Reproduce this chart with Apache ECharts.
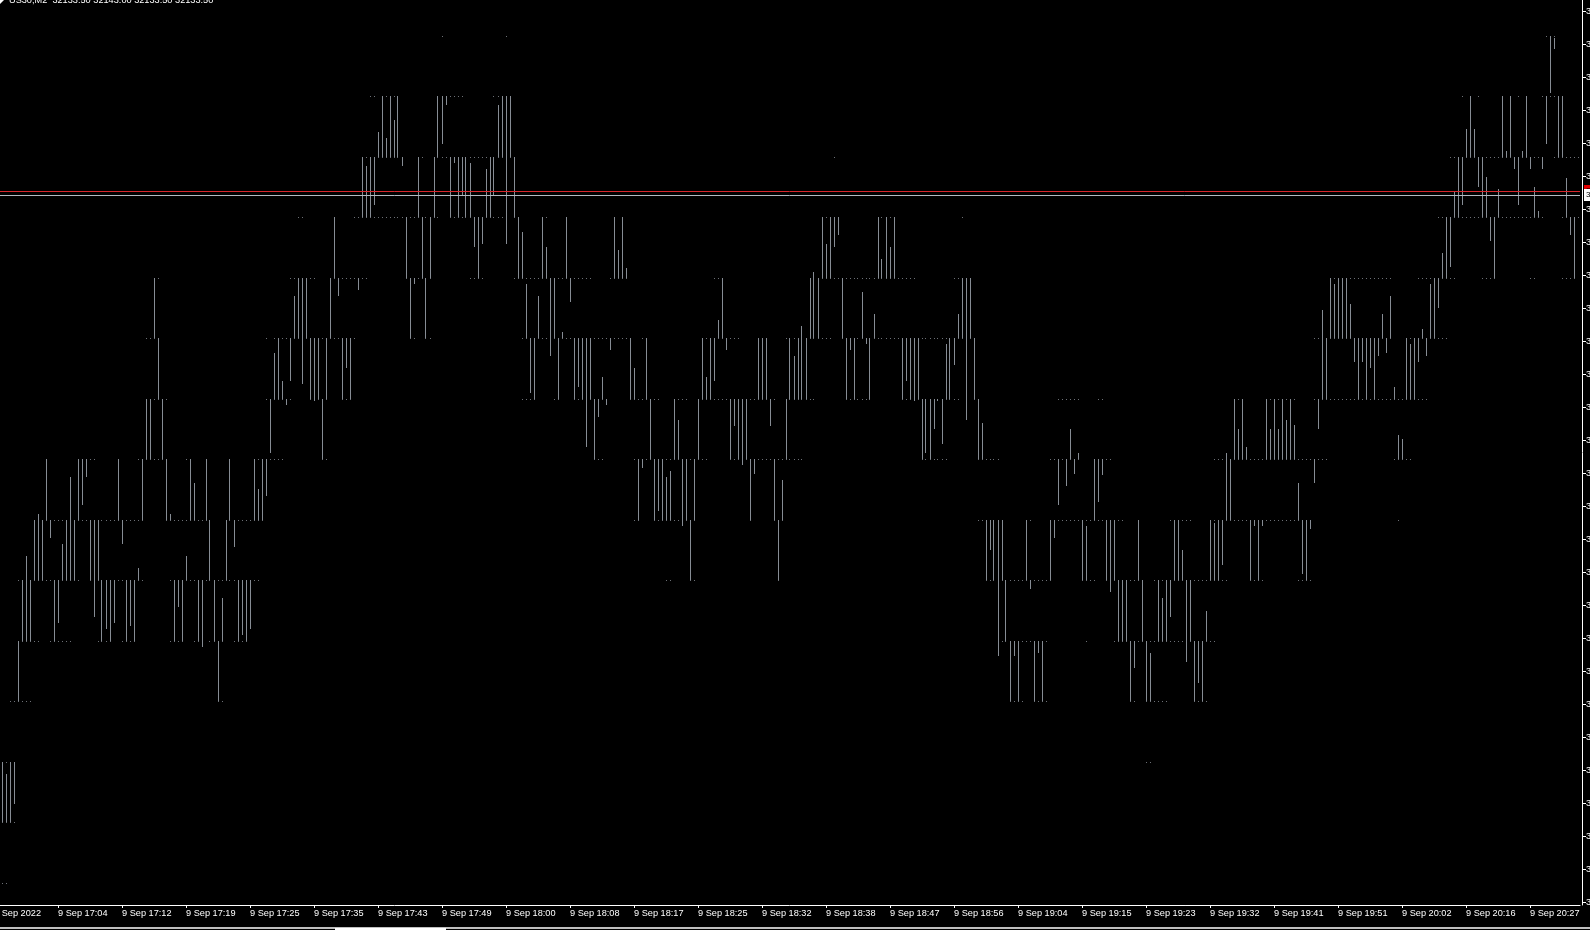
<!DOCTYPE html>
<html><head><meta charset="utf-8">
<style>html,body{margin:0;padding:0;background:#000;overflow:hidden}#c{width:1590px;height:930px}</style>
<script src="https://cdn.jsdelivr.net/npm/echarts@6/dist/echarts.min.js"></script>
</head><body><div id="c"></div>
<script>
const priceBase = 32000;
const header = 'US30,M2  32133.50 32143.00 32133.50 32133.50';
const bidPrice = 32133.75, askPrice = 32134.4;
const bidLabel = '32133.50', askLabel = '32134.20';
const timeLabels = ['9 Sep 2022','9 Sep 17:04','9 Sep 17:12','9 Sep 17:19','9 Sep 17:25','9 Sep 17:35','9 Sep 17:43','9 Sep 17:49','9 Sep 18:00','9 Sep 18:08','9 Sep 18:17','9 Sep 18:25','9 Sep 18:32','9 Sep 18:38','9 Sep 18:47','9 Sep 18:56','9 Sep 19:04','9 Sep 19:15','9 Sep 19:23','9 Sep 19:32','9 Sep 19:41','9 Sep 19:51','9 Sep 20:02','9 Sep 20:16','9 Sep 20:27'];
const priceTicks = [32164.13,32158.68,32153.23,32147.77,32142.32,32136.87,32131.41,32125.96,32120.50,32115.05,32109.60,32104.14,32098.69,32093.23,32087.78,32082.33,32076.87,32071.42,32065.96,32060.51,32055.06,32049.60,32044.15,32038.69,32033.24,32027.79,32022.33,32016.88];

// [column, high, low] relative to priceBase
const barsA = [[0,40,30],[1,38,30],[2,40,30],[3,40,33],[4,60,50],[5,70,60],[6,74,60],[7,70,60],[8,80,70],[9,81,70],[10,80,70],[11,90,80],[12,80,77],[13,70,60],[14,70,63],[15,76,70],[16,80,70],[17,87,70],[18,80,70],[19,90,80],[20,90,82.5],[21,90,87],[22,80,70],[23,80,64],[24,80,70],[25,70,60],[26,70,62],[27,70,60],[28,70,63],[29,90,80],[30,80,76],[31,70,60],[32,70,62.5],[33,70,60],[34,72,70],[35,90,80],[36,100,90],[37,100,90],[38,120,110],[39,110,100],[40,100,90],[41,90,80],[42,81,80],[43,70,60],[44,70,65.5],[45,70,60],[46,74,70],[47,90,80],[48,86,80],[49,70,60],[50,70,59],[51,90,80],[52,80,70],[53,70,60],[54,60,50],[55,67,60],[56,80,70],[57,90,80],[58,80,75.5],[59,70,60],[60,70,61],[61,70,60],[62,70,62],[63,90,80],[64,85,80],[65,90,80],[66,90,84]];
const barsB = [[67,100,91],[68,107.5,100],[69,110,100],[70,103,100],[71,100,99],[72,110,103],[73,117,110],[74,120,110],[75,120,102.5],[76,120,110],[77,110,100],[78,110,99.6],[79,110,100],[80,100,90],[81,110,100],[82,120,110],[83,130,120],[84,120,117],[85,110,100],[86,110,105],[87,110,100],[89,120,118],[90,140,130],[91,138.5,130],[92,140,130],[93,140,132],[94,144,140],[95,150,140],[96,143,140],[97,150,140],[98,146,140],[99,150,140],[100,140,138.5],[101,130,120],[102,120,110],[103,120,119],[104,140,130],[105,130,120],[106,120,110],[107,130,120],[108,140,130],[109,150,140],[110,150,142],[111,150,148.6],[112,140,130],[113,140,139],[114,140,130],[115,140,133.7],[116,140,130],[117,139,130],[118,130,125],[119,130,120],[120,130,125.5],[121,138,130],[122,140,130],[123,140,133.7],[124,148.5,140],[125,150,140],[126,150,125.5],[127,150,140],[128,140,130],[129,130,120],[130,127.5,120],[131,119,110]];
const barsC = [[132,110,101],[133,110,100],[134,117,110],[135,130,120],[136,125,120],[137,120,107],[138,120,110],[139,110,100],[140,111,110],[141,130,120],[142,120,116],[143,110,100],[144,110,102],[145,110,100],[146,110,92],[147,110,100],[148,100,90],[149,100,97],[150,103.6,100],[151,100,99],[152,110,108],[153,130,120],[154,124.6,120],[155,130,120],[156,121.6,120],[157,110,100],[158,105,100],[159,90,80],[160,90,88.5],[161,110,100],[162,100,90],[163,90,80],[164,90,81.5],[165,90,80],[166,87,80],[167,88,80],[168,100,90],[169,96.4,90],[170,90,79],[171,90,80],[172,80,70],[173,90,80],[174,100,90],[175,110,100],[176,103.6,100],[177,110,100],[178,110,103],[179,113,110],[180,120,110],[181,110,108],[182,100,90],[183,100,95.5],[184,100,90],[185,100,89],[186,100,90],[187,90,80],[188,90,87.5],[189,110,100],[190,110,100],[191,110,100],[192,100,95.5],[193,90,80],[194,80,70]];
const barsD = [[195,86.6,80],[196,100,90],[197,110,100],[198,107,100],[199,110,100],[200,112,100],[201,110,100],[202,120,110],[203,121,110],[204,120,110],[205,130,120],[206,125.6,120],[207,130,120],[208,130,125],[209,130,127],[210,120,110],[211,110,100],[212,110,108],[213,110,100],[215,117.6,110],[216,110,109],[217,110,100],[218,114,110],[219,130,120],[220,123,120],[221,130,120],[222,125,120],[223,130,120],[225,110,100],[226,110,103],[227,110,100],[228,110,99.6],[229,110,100],[230,100,90],[231,100,91],[232,100,90],[233,100,95],[234,100,99.6],[235,100,92.5],[236,109,100],[237,110,100],[238,110,105.5],[239,114,110],[240,120,110],[241,120,96.5],[242,120,110],[243,110,100],[244,100,90],[245,96,90]];
const barsE = [[246,80,70],[247,80,75],[248,80,70],[249,80,57.5],[250,80,70],[251,70,60],[252,60,50],[253,60,57.5],[254,60,50],[256,80,70],[257,70,68.5],[258,60,50],[259,60,58],[260,60,50],[262,80,70],[263,80,77],[264,90,82.5],[266,90,85.5],[267,95,90],[268,90,87.5],[269,91,90],[270,80,70],[271,79,70],[273,90,80],[274,90,83],[275,90,87.4],[276,80,70],[277,80,68],[278,80,70],[279,70,60],[280,70,60],[281,70,60],[282,60,50],[283,60,55.5],[284,80,70],[285,70,60],[286,60,50],[287,58,50],[289,70,60],[290,67,60],[291,70,60],[292,70,64],[293,80,70],[294,80,70],[295,75,70],[296,70,56.5],[297,70,60],[298,60,50],[299,60,53],[300,60,50],[301,65,60],[302,80,70],[303,79.5,70],[304,80,70],[305,80,72.5],[306,91,80]];
const barsF = [[307,90,80],[308,100,90],[309,95,90],[310,100,90],[311,92,90],[312,80,70],[313,80,79],[314,80,70],[315,80,79],[316,100,90],[317,95,90],[318,100,90],[319,95,90],[320,100,90],[321,96.5,90],[322,100,90],[323,95.7,90],[324,86,80],[325,80,71],[326,80,70],[327,80,78.5],[328,90,86],[329,100,95],[330,114.6,100],[331,110,100],[332,120,110],[333,119,110],[334,120,110],[335,120,110],[336,120,110],[337,115.7,110],[338,110,106],[339,110,100],[340,110,106],[341,110,100],[342,110,105],[343,110,100],[344,110,107],[345,114,110],[346,110,107.6],[347,117,110],[348,102,100],[349,94,90],[350,93.4,90],[351,110,100],[352,109,100],[353,110,100],[354,110,106],[355,111.5,110],[356,110,107],[357,119,110],[358,120,110],[359,120,115],[360,124,120],[361,130,120],[362,130,121.8]];
const barsG = [[363,134.3,130],[364,140,130],[365,140,132],[366,144.6,140],[367,150,140],[368,144.6,140],[369,140,135],[370,140,130],[371,136.6,130],[372,130,126],[373,130,120],[374,134.7,130],[375,150,140],[376,141,140],[377,150,140],[378,140,138],[379,140,132],[380,141,140],[381,150,140],[382,140,138],[383,135,130],[384,131,130],[385,140,138],[386,150,142],[387,160,150.5],[388,159.6,157.8],[389,150,140],[390,150,140],[391,136.5,130],[392,130,127],[393,130,120]];

// small flat marks per price level: [firstColumn, lastColumn]
const dots160 = [[110,110],[126,126],[386,388]];
const dots150 = [[92,93],[95,99],[109,115],[123,127],[365,365],[367,367],[369,369],[375,375],[377,377],[379,379],[381,381],[385,390]];
const dots140 = [[90,100],[104,105],[108,128],[208,208],[362,385],[388,394]];
const dots130 = [[74,75],[83,83],[88,109],[112,125],[128,129],[135,136],[141,141],[153,153],[155,155],[205,209],[219,223],[240,240],[359,385],[390,394]];
const dots120 = [[38,39],[72,78],[82,91],[101,107],[117,120],[128,147],[152,156],[178,180],[202,228],[238,242],[332,347],[354,363],[370,373],[382,383],[390,393]];
const dots110 = [[36,39],[66,66],[68,88],[102,103],[106,107],[130,157],[160,161],[175,184],[189,191],[196,207],[210,243],[328,347],[351,361]];
const dots100 = [[36,41],[66,72],[77,81],[85,87],[130,133],[138,139],[143,151],[157,164],[168,171],[174,193],[196,203],[211,217],[225,239],[241,241],[243,244],[264,269],[274,275],[308,310],[316,323],[328,356]];
const dots90 = [[11,11],[19,23],[29,29],[34,41],[46,47],[51,51],[57,57],[63,70],[80,81],[148,150],[158,176],[182,200],[230,236],[244,249],[262,269],[273,277],[303,331],[348,352]];
const dots80 = [[8,35],[41,52],[56,65],[158,159],[163,173],[187,187],[193,195],[244,250],[256,257],[262,280],[284,284],[292,297],[302,327],[349,349]];
const dots70 = [[4,19],[22,35],[42,64],[166,167],[172,173],[194,194],[246,262],[270,273],[276,285],[288,306],[312,315],[324,327]];
const dots60 = [[4,9],[12,17],[24,27],[30,33],[42,45],[48,50],[52,55],[58,61],[250,261],[271,271],[278,303]];
const dots50 = [[2,7],[54,55],[252,255],[258,261],[282,283],[286,291],[298,301]];
const dots40 = [[0,3],[286,287]];
const dots30 = [[0,3]];
const dots20 = [[0,1]];
const dotLevels = [[160,dots160],[150,dots150],[140,dots140],[130,dots130],[120,dots120],[110,dots110],[100,dots100],[90,dots90],[80,dots80],[70,dots70],[60,dots60],[50,dots50],[40,dots40],[30,dots30],[20,dots20]];

const columnOffset = 2; // columns before the first drawn bar on the axis
const columnCount = 397;
const categories = Array.from({length:columnCount},(_,i)=>String(i));
const barData = [].concat(barsA,barsB,barsC,barsD,barsE,barsF,barsG)
  .map(b=>[b[0]+columnOffset, priceBase+b[1], priceBase+b[2]]);
const dotData = [];
dotLevels.forEach(([lv,runs])=>runs.forEach(([a,b])=>{
  for(let k=a;k<=b;k++) dotData.push([k+columnOffset, priceBase+lv]);
}));

const BAR='#868c94', DOT='#6c7076';
const chart = echarts.init(document.getElementById('c'),null,{renderer:'canvas'});
const isTick = i=>i%16===0;
chart.setOption({
  animation:false,
  backgroundColor:'#000',
  title:{text:header,left:4,top:-9,textStyle:{color:'#fff',fontSize:9.2,fontWeight:'normal',fontFamily:'Liberation Sans'}},
  grid:{left:-8,top:0,width:columnCount*4,height:905,outerBoundsMode:'none',containLabel:false},
  xAxis:{type:'category',data:categories,boundaryGap:true,
    axisLine:{lineStyle:{color:'#fff',width:1}},
    axisTick:{show:true,length:3,alignWithLabel:true,interval:(i)=>isTick(i),lineStyle:{color:'#fff'}},
    axisLabel:{interval:(i)=>isTick(i),formatter:(v,i)=>timeLabels[i/16]||'',color:'#fff',fontSize:9.2,fontFamily:'Liberation Sans',align:'left',margin:4,hideOverlap:false},
    splitLine:{show:false}},
  yAxis:{type:'value',position:'right',offset:2,min:32016.43,max:32165.95,
    axisLine:{show:true,lineStyle:{color:'#fff',width:1}},
    axisTick:{show:true,length:4,lineStyle:{color:'#fff'},customValues:priceTicks},
    axisLabel:{color:'#fff',fontSize:9.2,fontFamily:'Liberation Sans',margin:4,customValues:priceTicks,formatter:v=>Number(v).toFixed(2)},
    splitLine:{show:false}},
  series:[
    {type:'custom',name:'flat',silent:true,encode:{x:0,y:1},data:dotData,
     renderItem:(p,api)=>{const c=api.coord([api.value(0),api.value(1)]);
       return {type:'rect',shape:{x:Math.floor(c[0]),y:Math.floor(c[1]),width:1,height:1},style:{fill:DOT}};}},
    {type:'custom',name:'bars',silent:true,encode:{x:0,y:[1,2]},data:barData,
     renderItem:(p,api)=>{const t=api.coord([api.value(0),api.value(1)]),b=api.coord([api.value(0),api.value(2)]);
       const x=Math.floor(t[0])+0.5;
       return {type:'line',shape:{x1:x,y1:Math.floor(t[1]),x2:x,y2:Math.floor(b[1])},style:{stroke:BAR,lineWidth:1}};},
     markLine:{silent:true,symbol:'none',animation:false,precision:2,data:[
       {yAxis:askPrice,lineStyle:{color:'#d8262c',width:1,type:'solid'},
        label:{position:'end',distance:4,formatter:askLabel,color:'#000',fontSize:8,backgroundColor:'#e00000',padding:[2,2]}},
       {yAxis:bidPrice,lineStyle:{color:'#b4bac2',width:1,type:'solid'},
        label:{position:'end',distance:4,formatter:bidLabel,color:'#000',fontSize:8,backgroundColor:'#fff',padding:[2,2]}}]}}
  ],
  graphic:[
    {type:'polygon',silent:true,shape:{points:[[0,0],[4,0],[0,4]]},style:{fill:'#fff'}},
    {type:'line',silent:true,shape:{x1:0,y1:928,x2:1590,y2:928},style:{stroke:'#fff',lineWidth:1.5}},
    {type:'rect',silent:true,shape:{x:335,y:928,width:111,height:2},style:{fill:'#fff'}}
  ]
});
</script></body></html>
